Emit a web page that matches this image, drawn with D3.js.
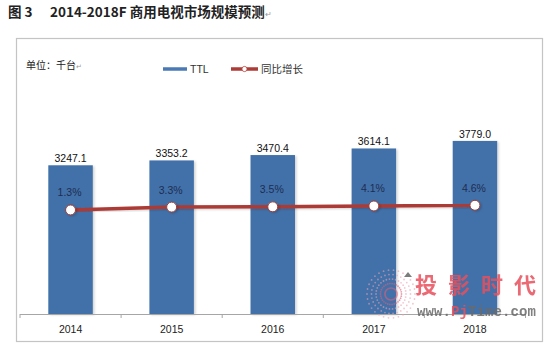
<!DOCTYPE html>
<html><head><meta charset="utf-8">
<script src="https://cdn.jsdelivr.net/npm/d3@7"></script>
<style>
html,body{margin:0;padding:0;background:#fff;}
svg{display:block;}
</style></head>
<body>
<svg id="chart" width="550" height="351"></svg>
<script>
const years = ["2014","2015","2016","2017","2018"];
const ttl = [3247.1, 3353.2, 3470.4, 3614.1, 3779.0];
const growth = [1.3, 3.3, 3.5, 4.1, 4.6];
const growthLabels = ["1.3%","3.3%","3.5%","4.1%","4.6%"];

const svg = d3.select("#chart");
const font = "'Liberation Sans', Arial, sans-serif";
const cjk = "'Noto Sans CJK SC', 'Liberation Sans', sans-serif";

// Title
const title = svg.append("text").attr("x", 8).attr("y", 17)
  .attr("font-family", cjk).attr("font-size", 13.5).attr("font-weight", "bold").attr("fill", "#222");
title.append("tspan").text("图 3");
title.append("tspan").attr("x", 50).text("2014-2018F 商用电视市场规模预测");
title.append("tspan").attr("font-size", 8).attr("fill", "#999").attr("font-weight", "normal").text("↵");

// Frame
svg.append("rect").attr("x", 16.5).attr("y", 38.5).attr("width", 526).attr("height", 303)
  .attr("fill", "#fff").attr("stroke", "#c4c4c4").attr("stroke-width", 1.2);

// Unit
const unit = svg.append("text").attr("x", 26).attr("y", 69)
  .attr("font-family", cjk).attr("font-size", 10).attr("fill", "#222");
unit.append("tspan").text("单位：千台");
unit.append("tspan").attr("font-size", 7).attr("fill", "#999").text("↵");

// Scales
const x = d3.scaleBand().domain(years).range([20, 525.5]).paddingInner(0.56).paddingOuter(0.28);
const y = d3.scaleLinear().domain([0, 4000]).range([314, 130.8]);
const y2 = d3.scaleLinear().domain([0, 100]).range([211.8, 69.8]);

// Legend
const lg = svg.append("g");
lg.append("line").attr("x1", 163).attr("x2", 187).attr("y1", 69).attr("y2", 69)
  .attr("stroke", "#4a7ab5").attr("stroke-width", 3.5);
lg.append("text").attr("x", 190).attr("y", 73).attr("font-family", font).attr("font-size", 10.5)
  .attr("fill", "#333").text("TTL");
lg.append("line").attr("x1", 231).attr("x2", 258).attr("y1", 69).attr("y2", 69)
  .attr("stroke", "#ad3b36").attr("stroke-width", 3.5);
lg.append("circle").attr("cx", 244.5).attr("cy", 69).attr("r", 2.6).attr("fill", "#fff")
  .attr("stroke", "#ad3b36").attr("stroke-width", 0.8);
lg.append("text").attr("x", 261).attr("y", 73).attr("font-family", cjk).attr("font-size", 10.5)
  .attr("fill", "#333").text("同比增长");

// Shadow filter
const defs = svg.append("defs");
const f = defs.append("filter").attr("id", "sh").attr("x", "-20%").attr("y", "-20%").attr("width", "150%").attr("height", "150%");
f.append("feDropShadow").attr("dx", 1.5).attr("dy", 1).attr("stdDeviation", 1.2).attr("flood-color", "#000").attr("flood-opacity", 0.18);

// Bars
svg.append("g").selectAll("rect").data(years).join("rect")
  .attr("x", d => x(d)).attr("width", x.bandwidth())
  .attr("y", (d, i) => y(ttl[i])).attr("height", (d, i) => y(0) - y(ttl[i]))
  .attr("fill", "#4271a9").attr("filter", "url(#sh)");

// Bar value labels
svg.append("g").selectAll("text").data(years).join("text")
  .attr("x", d => x(d) + x.bandwidth() / 2).attr("y", (d, i) => y(ttl[i]) - 3)
  .attr("text-anchor", "middle").attr("font-family", font).attr("font-size", 10.5)
  .attr("fill", "#111").text((d, i) => ttl[i].toFixed(1));

// X axis
const xAxis = d3.axisBottom(x).tickSize(0).tickPadding(0);
const ax = svg.append("g").attr("transform", "translate(0,314)").call(xAxis);
ax.select(".domain").attr("stroke", "#a6a6a6").attr("d", "M20,0.5H525.5");
ax.selectAll(".tick text").attr("font-family", font).attr("font-size", 10.5).attr("fill", "#222").attr("y", 19).attr("dy", 0);
const edges = [x.range()[0]].concat(years.map(d => x(d) + x.bandwidth() / 2 + x.step() / 2));
ax.append("g").selectAll("line").data(edges).join("line")
  .attr("x1", d => d).attr("x2", d => d).attr("y1", 0).attr("y2", 4)
  .attr("stroke", "#a6a6a6");

// Growth line
const cx = d => x(d) + x.bandwidth() / 2;
const line = d3.line().x((d, i) => cx(years[i])).y(d => y2(d));
svg.append("path").datum(growth).attr("d", line).attr("fill", "none")
  .attr("stroke", "#ad3b36").attr("stroke-width", 3.5).attr("filter", "url(#sh)");
svg.append("g").selectAll("circle").data(growth).join("circle")
  .attr("cx", (d, i) => cx(years[i])).attr("cy", d => y2(d)).attr("r", 5)
  .attr("fill", "#fff").attr("stroke", "#9a3a36").attr("stroke-width", 1).attr("filter", "url(#sh)");
svg.append("g").selectAll("text").data(growth).join("text")
  .attr("x", (d, i) => cx(years[i]) - 1).attr("y", d => y2(d) - 13.5)
  .attr("text-anchor", "middle").attr("font-family", font).attr("font-size", 10.5)
  .attr("fill", "#1e2d52").text((d, i) => growthLabels[i]);

// Watermark
const wm = svg.append("g").attr("opacity", 0.85);
const lc = {x: 391, y: 294};
for (let k = 0; k < 30; k++) {
  const a = k / 30 * Math.PI * 2;
  for (let r = 6; r <= 24; r += 4.5) {
    wm.append("circle").attr("cx", lc.x + Math.cos(a) * r).attr("cy", lc.y + Math.sin(a) * r)
      .attr("r", 0.9).attr("fill", r > 14 ? "#e9a0b0" : "#d9607a").attr("opacity", 0.7);
  }
}
wm.append("path").attr("d", "M404,277 l4,-5 l4,5 z").attr("fill", "#666");
wm.append("text").attr("x", 415).attr("y", 293).attr("font-family", "'Noto Sans CJK SC', sans-serif")
  .attr("font-weight", "bold").attr("font-size", 22).attr("letter-spacing", 11).attr("fill", "#e8505c").text("投影时代");
const url = wm.append("text").attr("x", 417).attr("y", 316).attr("font-family", "'Liberation Mono', 'DejaVu Sans Mono', monospace")
  .attr("font-weight", "bold").attr("font-size", 14).attr("letter-spacing", 0.1).attr("fill", "#6a6a6a");
url.append("tspan").text("www.");
url.append("tspan").attr("fill", "#e8505c").text("Pj");
url.append("tspan").text("Time.com");
</script>
</body></html>
